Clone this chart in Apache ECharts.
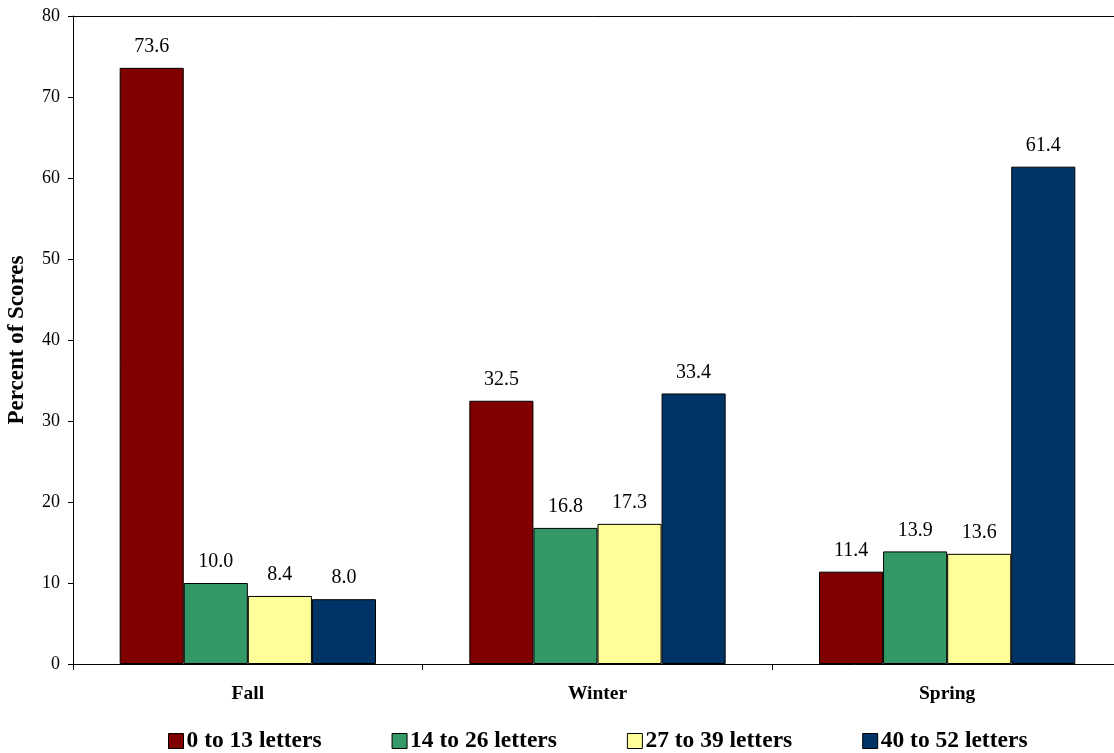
<!DOCTYPE html>
<html>
<head>
<meta charset="utf-8">
<script src="https://cdn.jsdelivr.net/npm/echarts@6/dist/echarts.min.js"></script>
<style>
  html, body { margin: 0; padding: 0; background: #fff; }
  #chart { width: 1114px; height: 753px; }
</style>
</head>
<body>
<div id="chart"></div>
<script>
// Letter-naming score bands by testing season
const seasons = ['Fall', 'Winter', 'Spring'];
const bandNames = ['0 to 13 letters', '14 to 26 letters', '27 to 39 letters', '40 to 52 letters'];
const band0to13 = [73.6, 32.5, 11.4];
const band14to26 = [10.0, 16.8, 13.9];
const band27to39 = [8.4, 17.3, 13.6];
const band40to52 = [8.0, 33.4, 61.4];
const bandColors = ['#800000', '#339966', '#FFFF99', '#003366'];
const yTicks = [0, 10, 20, 30, 40, 50, 60, 70, 80];

const serif = '"Liberation Serif", "Times New Roman", serif';
const bandValues = [band0to13, band14to26, band27to39, band40to52];

const chart = echarts.init(document.getElementById('chart'), null, { renderer: 'canvas' });

const series = bandNames.map((name, i) => ({
  name: name,
  type: 'bar',
  data: bandValues[i],
  barGap: '0%',
  barCategoryGap: '26.7%',
  itemStyle: { color: bandColors[i], borderColor: '#000', borderWidth: 1 },
  label: {
    show: true,
    position: 'top',
    distance: 11,
    formatter: p => p.value.toFixed(1),
    fontFamily: serif,
    fontSize: 20,
    color: '#000'
  }
}));

chart.setOption({
  animation: false,
  backgroundColor: '#fff',
  grid: { left: 73, right: -8, top: 16, bottom: 89, containLabel: false, outerBoundsMode: 'none' },
  legend: {
    data: bandNames,
    bottom: -5,
    left: 163,
    itemWidth: 15,
    itemHeight: 15,
    itemGap: 70,
    icon: 'rect',
    textStyle: { fontFamily: serif, fontSize: 23.5, fontWeight: 'bold', color: '#000', padding: [0, 0, 0, -2] },
    itemStyle: { borderColor: '#000', borderWidth: 1 }
  },
  xAxis: [
    {
      type: 'category',
      data: seasons,
      axisLine: { lineStyle: { color: '#000', width: 1 } },
      axisTick: { show: true, length: 6, lineStyle: { color: '#000' } },
      axisLabel: { fontFamily: serif, fontSize: 19.5, fontWeight: 'bold', color: '#000', margin: 20 }
    },
    {
      type: 'category',
      data: seasons,
      position: 'top',
      axisLine: { show: true, lineStyle: { color: '#000', width: 1 } },
      axisTick: { show: false },
      axisLabel: { show: false }
    }
  ],
  yAxis: {
    type: 'value',
    min: 0,
    max: 80,
    interval: 10,
    name: 'Percent of Scores',
    nameLocation: 'middle',
    nameGap: 44,
    nameTextStyle: { fontFamily: serif, fontSize: 23, fontWeight: 'bold', color: '#000' },
    axisLine: { show: true, lineStyle: { color: '#000', width: 1 } },
    axisTick: { show: true, length: 5, lineStyle: { color: '#000' } },
    splitLine: { show: false },
    axisLabel: {
      fontFamily: serif, fontSize: 18, color: '#000', margin: 13,
      formatter: v => (yTicks.includes(v) ? String(v) : '')
    }
  },
  series: series
});
</script>
</body>
</html>
